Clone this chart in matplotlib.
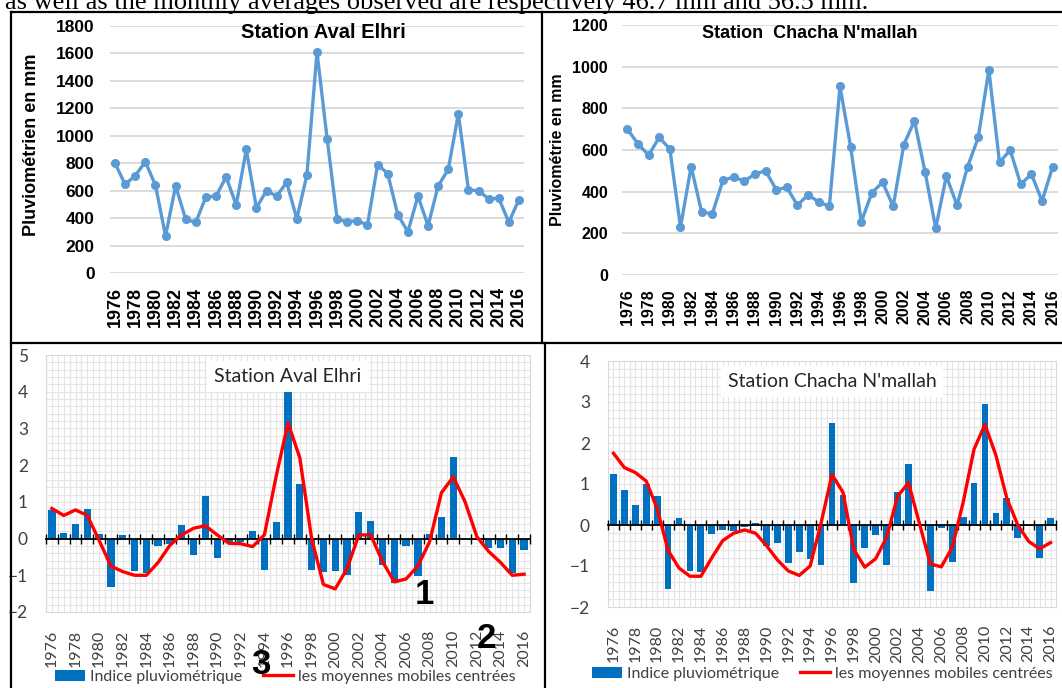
import numpy as np
import matplotlib
matplotlib.use("Agg")
import matplotlib.pyplot as plt
from matplotlib.lines import Line2D

W, H = 1062, 688

years = list(range(1976, 2017))

# annual rainfall (mm)
aval_mm = [800, 645, 710, 810, 640, 270, 635, 390, 370, 555,
           560, 700, 495, 900, 475, 600, 560, 660, 395, 715,
           1610, 980, 390, 375, 380, 350, 790, 725, 425, 300,
           560, 345, 635, 755, 1160, 605, 600, 540, 545, 370, 535]
chacha_mm = [700, 630, 575, 660, 605, 230, 520, 300, 295, 455,
             470, 450, 485, 500, 410, 420, 335, 385, 350, 330,
             905, 615, 255, 395, 445, 330, 625, 740, 495, 225,
             475, 335, 520, 660, 985, 540, 600, 435, 485, 355, 520]

# rainfall index and centred moving averages
aval_idx = [0.78, 0.15, 0.40, 0.80, 0.12, -1.32, 0.10, -0.87, -0.95, -0.20,
            -0.15, 0.37, -0.45, 1.17, -0.52, -0.08, -0.10, 0.20, -0.85, 0.45,
            4.00, 1.50, -0.85, -0.90, -0.88, -1.00, 0.72, 0.47, -0.72, -1.22,
            -0.20, -1.03, 0.12, 0.60, 2.22, 0.00, -0.03, -0.27, -0.25, -0.95, -0.30]
aval_mov = [0.82, 0.63, 0.78, 0.63, -0.05, -0.75, -0.90, -1.00, -1.00, -0.65,
            -0.18, 0.10, 0.28, 0.35, 0.10, -0.13, -0.14, -0.22, 0.10, 1.70,
            3.15, 2.20, 0.00, -1.25, -1.37, -0.82, 0.10, 0.10, -0.62, -1.18,
            -1.10, -0.75, -0.08, 1.25, 1.68, 1.00, 0.05, -0.35, -0.65, -1.00, -0.97]
chacha_idx = [1.25, 0.85, 0.50, 1.00, 0.70, -1.57, 0.17, -1.13, -1.15, -0.22,
              -0.13, -0.15, -0.05, 0.05, -0.50, -0.43, -0.92, -0.65, -0.82, -0.97,
              2.48, 0.73, -1.42, -0.55, -0.25, -0.97, 0.80, 1.50, -0.02, -1.60,
              -0.07, -0.90, 0.20, 1.03, 2.95, 0.30, 0.65, -0.32, -0.03, -0.80, 0.17]
chacha_mov = [1.75, 1.40, 1.28, 1.07, 0.40, -0.62, -1.05, -1.25, -1.25, -0.80,
              -0.38, -0.20, -0.12, -0.20, -0.50, -0.85, -1.12, -1.23, -1.00, 0.05,
              1.23, 0.80, -0.60, -1.03, -0.82, -0.30, 0.70, 1.03, 0.04, -0.95,
              -1.02, -0.55, 0.55, 1.85, 2.45, 1.70, 0.65, 0.00, -0.40, -0.58, -0.43]

year_labels = [str(y) for y in years[::2]]

SANS = "Liberation Sans"
CAL = "Lato"
LINE_BLUE = "#5B9BD5"
BAR_BLUE = "#0070C0"

fig = plt.figure(figsize=(W / 100, H / 100), dpi=100)


def px_axes(left, top, right, bottom):
    return fig.add_axes([left / W, 1 - bottom / H, (right - left) / W, (bottom - top) / H])


def ftext(x, y, s, **kw):
    return fig.text(x / W, 1 - y / H, s, **kw)


def rain_panel(ax, values, ymax, step, fs_tick, fs_year, pad_y):
    x = np.arange(len(years))
    ax.plot(x, values, color=LINE_BLUE, lw=2.4, marker="o", ms=5.5, zorder=3)
    ax.set_xlim(-0.5, len(years) - 0.5)
    ax.set_ylim(0, ymax)
    ax.set_yticks(np.arange(0, ymax + 1, step))
    ax.grid(axis="y", color="#D9D9D9", lw=1.3)
    ax.set_axisbelow(True)
    for s in ax.spines.values():
        s.set_visible(False)
    ax.set_xticks(x[::2], year_labels, rotation=90)
    ax.tick_params(length=0)
    ax.tick_params(axis="y", pad=pad_y)
    ax.tick_params(axis="x", pad=10)
    for lab in ax.get_yticklabels():
        lab.set_fontsize(fs_tick)
        lab.set_fontweight("bold")
        lab.set_family(SANS)
    for lab in ax.get_xticklabels():
        lab.set_fontsize(fs_year)
        lab.set_fontweight("bold")
        lab.set_family(SANS)


def index_panel(ax, idx, mov, ymin, ymax, title, legend_xy):
    n = len(years)
    x = np.arange(n)
    bars = ax.bar(x, idx, width=0.62, color=BAR_BLUE, zorder=2)
    line, = ax.plot(x, mov, color="#FF0000", lw=2.4, zorder=4)
    ax.set_xlim(-0.5, n - 0.5)
    ax.set_ylim(ymin, ymax)
    ax.set_yticks(np.arange(ymin, ymax + 1, 1))
    ax.set_yticks(np.arange(ymin, ymax + 0.01, 0.2), minor=True)
    ax.set_xticks(x[::2], year_labels, rotation=90)
    ax.set_xticks(np.arange(-0.5, n, 0.5), minor=True)
    ax.grid(which="both", color="#E4E4E4", lw=0.8)
    ax.set_axisbelow(True)
    for s in ax.spines.values():
        s.set_color("#D9D9D9")
        s.set_linewidth(0.8)
    ax.tick_params(which="both", length=0, labelsize=11.5, colors="#404040", pad=13)
    ax.tick_params(axis="y", labelsize=12.5)
    for lab in ax.get_xticklabels() + ax.get_yticklabels():
        lab.set_family(CAL)

    # zero axis with tick marks between categories
    sec = ax.secondary_xaxis((0 - ymin) / (ymax - ymin))
    sec.set_xticks(np.arange(-0.5, n, 1))
    sec.tick_params(direction="inout", length=7, width=1, color="black",
                    labelbottom=False, labeltop=False)
    sec.spines["bottom"].set_color("black")
    sec.spines["bottom"].set_linewidth(1.3)
    sec.set_zorder(3)

    ax.text(0.5, 0.915, title, transform=ax.transAxes, ha="center", va="center",
            fontsize=14, family=CAL, color="#262626",
            bbox=dict(facecolor="white", edgecolor="none", pad=5), zorder=5)

    ax.legend([bars, line], ["Indice pluviométrique", "les moyennes mobiles centrées"],
              loc="center", bbox_to_anchor=(legend_xy[0] / W, 1 - legend_xy[1] / H),
              bbox_transform=fig.transFigure, ncol=2, frameon=False,
              prop={"family": CAL, "size": 11.5}, handlelength=1.9,
              handletextpad=0.3, columnspacing=1.3, borderaxespad=0,
              labelcolor="#404040")


# --- top left: Aval Elhri rainfall
ax1 = px_axes(110, 26, 524, 273)
rain_panel(ax1, aval_mm, 1800, 200, 12.5, 13, 11)
ftext(323, 33, "Station Aval Elhri", ha="center", va="center",
      fontsize=14.5, fontweight="bold", family=SANS)
ftext(32, 145, "Pluviométrien en mm", ha="center", va="center", rotation=90,
      fontsize=13, fontweight="bold", family=SANS)

# --- top right: Chacha N'mallah rainfall
ax2 = px_axes(622, 25, 1058, 275)
rain_panel(ax2, chacha_mm, 1200, 200, 11.5, 11.5, 10)
ftext(810, 34, "Station  Chacha N'mallah", ha="center", va="center",
      fontsize=13, fontweight="bold", family=SANS)
ftext(557, 150, "Pluviométrie en mm", ha="center", va="center", rotation=90,
      fontsize=11.5, fontweight="bold", family=SANS)

# --- bottom left: Aval Elhri index
ax3 = px_axes(46, 355, 530, 612)
index_panel(ax3, aval_idx, aval_mov, -2, 5, "Station Aval Elhri", (285, 677))

# --- bottom right: Chacha N'mallah index
ax4 = px_axes(608, 361, 1056, 607)
index_panel(ax4, chacha_idx, chacha_mov, -2, 4, "Station Chacha N'mallah", (822, 674))

# annotation numbers
for s, (xx, yy) in {"1": (424, 595), "2": (486, 639), "3": (261, 664)}.items():
    ftext(xx, yy, s, ha="center", va="center", fontsize=25, fontweight="bold",
          family=SANS, zorder=10)

# surrounding text line and frame lines
ftext(5, 9, "as well as the monthly averages observed are respectively 46.7 mm and 56.5 mm.",
      ha="left", va="baseline", fontsize=19, family="Liberation Serif")

frame = [((11, 12), (1062, 12)), ((11, 12), (11, 688)), ((542, 12), (542, 343)),
         ((11, 343), (1062, 343)), ((545, 343), (545, 688))]
for (xa, ya), (xb, yb) in frame:
    fig.add_artist(Line2D([xa / W, xb / W], [1 - ya / H, 1 - yb / H],
                          color="black", lw=1.6, transform=fig.transFigure))

fig.savefig("out.png", dpi=100)
